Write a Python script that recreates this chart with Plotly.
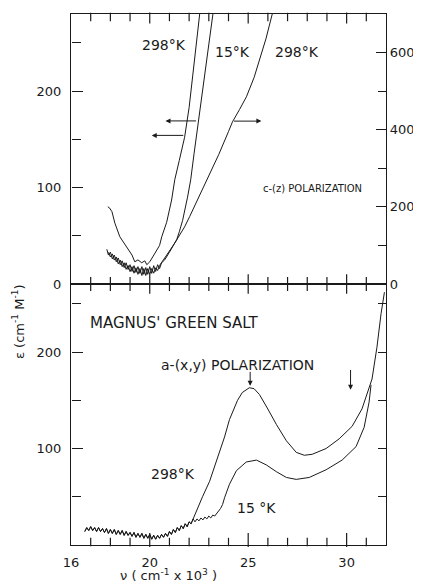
import plotly.graph_objects as go

# ---------------- top panel : c-(z) polarization ----------------
cz298L_x = [17.87, 17.95, 18.08, 18.23, 18.48, 18.7, 18.84, 18.99, 19.1, 19.24, 19.4, 19.59, 19.75, 19.85,
            20.0, 20.15, 20.35, 20.5, 20.61, 20.86, 21.11, 21.27, 21.5, 21.77, 22.0, 22.25, 22.53, 22.56]
cz298L_y = [80, 79, 75, 63, 49, 42, 37, 33, 30, 23, 25, 22, 24, 20,
            23, 28, 35, 40, 49, 64, 87, 108, 128, 152, 183, 225, 278, 284]
cz15_x = [17.82, 17.9, 18.0, 18.1, 18.2, 18.3, 18.4, 18.5, 18.6, 18.7, 18.8, 18.9, 19.0, 19.1, 19.2, 19.3,
          19.4, 19.5, 19.6, 19.7, 19.8, 19.9, 20.0, 20.1, 20.2, 20.3, 20.4, 20.5, 20.6, 20.76, 21.0, 21.2,
          21.37, 21.5, 21.67, 21.92, 22.08, 22.25, 22.43, 22.65, 22.84, 23.0, 23.19, 23.25]
cz15_y = [36, 30, 33, 26, 30, 23, 27, 20, 24, 17, 22, 15, 20, 13, 19, 12,
          18, 11, 18, 10, 17, 10, 18, 11, 19, 13, 20, 16, 22, 25, 33, 40,
          46, 54, 66, 90, 108, 135, 163, 196, 225, 250, 278, 286]
cz298R_x = [17.9, 18.0, 18.1, 18.2, 18.3, 18.4, 18.5, 18.6, 18.7, 18.8, 18.9, 19.0, 19.1, 19.2, 19.3, 19.4,
            19.5, 19.6, 19.7, 19.8, 19.9, 20.0, 20.1, 20.2, 20.3, 20.4, 20.5, 20.61, 20.86, 21.27, 21.77,
            22.03, 22.5, 23.0, 23.5, 24.0, 24.2, 24.56, 24.91, 25.3, 25.57, 25.9, 26.25]
cz298R_y = [82, 70, 78, 62, 70, 52, 62, 45, 55, 38, 48, 32, 45, 28, 42, 25,
            40, 22, 40, 22, 40, 25, 40, 28, 42, 35, 48, 57, 75, 106, 148,
            175, 225, 280, 335, 395, 420, 452, 485, 535, 578, 635, 705]

# ---------------- bottom panel : a-(x,y) polarization ----------------
base_x = [16.7, 16.8, 16.9, 17.0, 17.1, 17.2, 17.3, 17.4, 17.5, 17.6, 17.7, 17.8, 17.9, 18.0, 18.1, 18.2,
          18.3, 18.4, 18.5, 18.6, 18.7, 18.8, 18.9, 19.0, 19.1, 19.2, 19.3, 19.4, 19.5, 19.6, 19.7, 19.8,
          19.9, 20.0, 20.1, 20.2, 20.3, 20.4, 20.5, 20.6, 20.7, 20.8, 20.9, 21.0, 21.1, 21.2, 21.3, 21.4,
          21.5, 21.6, 21.7, 21.8, 21.9, 22.0, 22.1, 22.2]
base_y = [14, 18, 15, 19, 15, 18, 14, 18, 14, 17, 13, 17, 12, 16, 12, 16,
          11, 15, 11, 15, 10, 14, 10, 13, 9, 13, 8, 12, 8, 12, 7, 11,
          7, 11, 6, 10, 6, 10, 7, 11, 8, 12, 9, 14, 11, 16, 13, 18,
          15, 20, 17, 22, 19, 24, 22, 27]
a298_x = [22.38, 22.68, 23.04, 23.4, 23.8, 24.05, 24.46, 24.7, 25.06, 25.3, 25.57, 25.97, 26.43, 26.94,
          27.44, 27.85, 28.25, 28.96, 29.62, 30.28, 30.78, 31.29, 31.54, 31.75, 31.92]
a298_y = [34, 50, 66, 88, 112, 130, 150, 158, 163, 162, 156, 142, 125, 108,
          96, 93, 94, 100, 110, 123, 141, 172, 205, 240, 262]
a15_x = [22.3, 22.4, 22.5, 22.6, 22.7, 22.8, 22.9, 23.0, 23.1, 23.2, 23.3, 23.45, 23.6, 23.7, 23.8, 24.05,
         24.4, 24.9, 25.42, 25.92, 26.43, 26.94, 27.44, 28.1, 28.96, 29.77, 30.48, 30.89, 31.14, 31.24]
a15_y = [24, 27, 25, 28, 26, 29, 27, 30, 28, 31, 30, 34, 38, 42, 49, 63,
         77, 86, 88, 83, 76, 70, 68, 70, 78, 88, 102, 122, 148, 166]

# tick labels / tick positions
x_labels = [16, 20, 25, 30]
x_major_ticks = [20, 25, 30]
x_minor_ticks = [17, 18, 19, 21, 22, 23, 24, 26, 27, 28, 29, 31]
yl_top_labels = [0, 100, 200]
yl_bot_labels = [100, 200]
y_major = [100, 200]
y_right_bot = [50, 100, 150, 200, 250]
yr_labels = [0, 200, 400, 600]
yr_major = [200, 400, 600]

INK = "#1a1a1a"
FONT = "DejaVu Sans"
line = dict(color=INK, width=1)

X_RANGE = [16, 32]
YB_RANGE = [0, 270.5]
YT_RANGE = [0, 279.8]
YR_RANGE = [0, 699.5]
SPLIT = 261 / 531
PX = YT_RANGE[1] / 270.0   # data units per pixel in both left-hand scales

fig = go.Figure()
fig.add_trace(go.Scatter(x=cz298L_x, y=cz298L_y, mode="lines", line=line, xaxis="x2", yaxis="y2", showlegend=False))
fig.add_trace(go.Scatter(x=cz15_x, y=cz15_y, mode="lines", line=line, xaxis="x2", yaxis="y2", showlegend=False))
fig.add_trace(go.Scatter(x=cz298R_x, y=cz298R_y, mode="lines", line=line, xaxis="x2", yaxis="y3", showlegend=False))
fig.add_trace(go.Scatter(x=base_x + a298_x, y=base_y + a298_y, mode="lines", line=line, xaxis="x", yaxis="y", showlegend=False))
fig.add_trace(go.Scatter(x=base_x + a15_x, y=base_y + a15_y, mode="lines", line=line, xaxis="x", yaxis="y", showlegend=False))

# x-axis tick marks (drawn as vertical line markers on the axis lines)
def xticks(xs, yval, size, xa, ya):
    fig.add_trace(go.Scatter(x=xs, y=[yval] * len(xs), mode="markers", xaxis=xa, yaxis=ya,
                             marker=dict(symbol="line-ns", size=size, line=dict(color=INK, width=1.2)),
                             cliponaxis=False, showlegend=False, hoverinfo="skip"))

xticks(x_major_ticks, YB_RANGE[0] + 5 * PX, 10, "x", "y")      # bottom edge, pointing up
xticks(x_minor_ticks, YB_RANGE[0] + 3 * PX, 6, "x", "y")
xticks(x_major_ticks, YT_RANGE[0], 14, "x2", "y2")              # middle line, crossing
xticks(x_minor_ticks, YT_RANGE[0], 10, "x2", "y2")
xticks(x_major_ticks, YT_RANGE[1] - 4 * PX, 8, "x2", "y2")      # top edge, pointing down
xticks(x_minor_ticks, YT_RANGE[1] - 3 * PX, 6, "x2", "y2")

# empty carriers so that every tick-only y axis has its own subplot
for xa, ya in [("x", "y4"), ("x", "y5"), ("x2", "y6"), ("x2", "y7")]:
    fig.add_trace(go.Scatter(x=[], y=[], mode="lines", xaxis=xa, yaxis=ya, showlegend=False, hoverinfo="skip"))

tickfont = dict(family=FONT, size=13, color=INK)
label_axis = dict(showline=True, linecolor=INK, linewidth=1.2, showgrid=False, zeroline=False,
                  tickmode="array", tickfont=tickfont, automargin=False)
gap_ticks = dict(ticks="outside", ticklen=6, tickcolor="rgba(0,0,0,0)")

def tick_axis(rng, overlay, side, pos, major, majlen, dt=None, minlen=6):
    d = dict(range=rng, overlaying=overlay, anchor="free", position=pos, side=side,
             showline=False, showgrid=False, zeroline=False, showticklabels=False, automargin=False,
             tickmode="array", tickvals=major, ticks="outside", ticklen=majlen,
             tickcolor=INK, tickwidth=1.2)
    if dt is not None:
        d["minor"] = dict(tick0=0, dtick=dt, ticks="outside", ticklen=minlen, tickcolor=INK,
                          tickwidth=1.2, showgrid=False)
    return d

fig.update_layout(
    template="simple_white",
    width=413, height=575,
    margin=dict(l=63, r=35, t=6, b=38),
    paper_bgcolor="white", plot_bgcolor="rgba(0,0,0,0)",
    xaxis=dict(domain=[0, 1], anchor="y", range=X_RANGE, tickvals=x_labels, mirror=True,
               ticks="", ticklabelstandoff=5, **label_axis),
    xaxis2=dict(domain=[0, 1], anchor="y2", range=X_RANGE, tickvals=x_labels, mirror=True,
                ticks="", showticklabels=False, **label_axis),
    yaxis=dict(domain=[0, SPLIT], anchor="x", range=YB_RANGE, tickvals=yl_bot_labels, mirror=True,
               **gap_ticks, **label_axis),
    yaxis2=dict(domain=[SPLIT, 1], anchor="x2", range=YT_RANGE, tickvals=yl_top_labels,
                **gap_ticks, **label_axis),
    yaxis3=dict(overlaying="y2", side="right", anchor="x2", range=YR_RANGE, tickvals=yr_labels,
                ticks="", **label_axis),
    yaxis4=tick_axis(YB_RANGE, "y", "right", 0, y_major, 11, 50, 9),
    yaxis5=tick_axis(YB_RANGE, "y", "left", 1, y_right_bot, 8),
    yaxis6=tick_axis(YT_RANGE, "y2", "right", 0, y_major, 11, 50, 9),
    yaxis7=tick_axis(YR_RANGE, "y2", "left", 1, yr_major, 10, 100, 8),
)

ann = []
def label(x, y, text, xref, yref, size=14):
    ann.append(dict(x=x, y=y, xref=xref, yref=yref, text=text, showarrow=False,
                    xanchor="center", yanchor="middle",
                    font=dict(family=FONT, size=size, color=INK)))

label(20.71, 248, "298°K", "x2", "y2")
label(24.2, 240, "15°K", "x2", "y2")
label(27.47, 240, "298°K", "x2", "y2")
label(28.27, 99, "c-(z) POLARIZATION", "x2", "y2", size=10)
label(21.27, 230, "MAGNUS' GREEN SALT", "x", "y", size=15)
label(24.48, 186.5, "a-(x,y) POLARIZATION", "x", "y")
label(21.16, 73.6, "298°K", "x", "y")
label(25.42, 38, "15 °K", "x", "y")
label(-0.168, 0.42, "ε (cm<sup>-1</sup> M<sup>-1</sup>)", "paper", "paper", size=13)
ann[-1]["textangle"] = -90
label(0.311, -0.056, "ν ( cm<sup>-1</sup> x 10<sup>3</sup> )", "paper", "paper", size=13)

arrow = dict(showarrow=True, arrowhead=2, arrowsize=1, arrowwidth=1, arrowcolor=INK, text="")
ann.append(dict(x=20.1, y=154, ax=21.78, ay=154, xref="x2", yref="y2", axref="x2", ayref="y2", **arrow))
ann.append(dict(x=20.8, y=169, ax=22.43, ay=169, xref="x2", yref="y2", axref="x2", ayref="y2", **arrow))
ann.append(dict(x=25.67, y=422, ax=24.2, ay=422, xref="x2", yref="y3", axref="x2", ayref="y3", **arrow))
ann.append(dict(x=25.1, y=165, ax=25.1, ay=181, xref="x", yref="y", axref="x", ayref="y", **arrow))
ann.append(dict(x=30.2, y=161, ax=30.2, ay=183, xref="x", yref="y", axref="x", ayref="y", **arrow))

fig.update_layout(annotations=ann)
fig.write_html("out.html")
